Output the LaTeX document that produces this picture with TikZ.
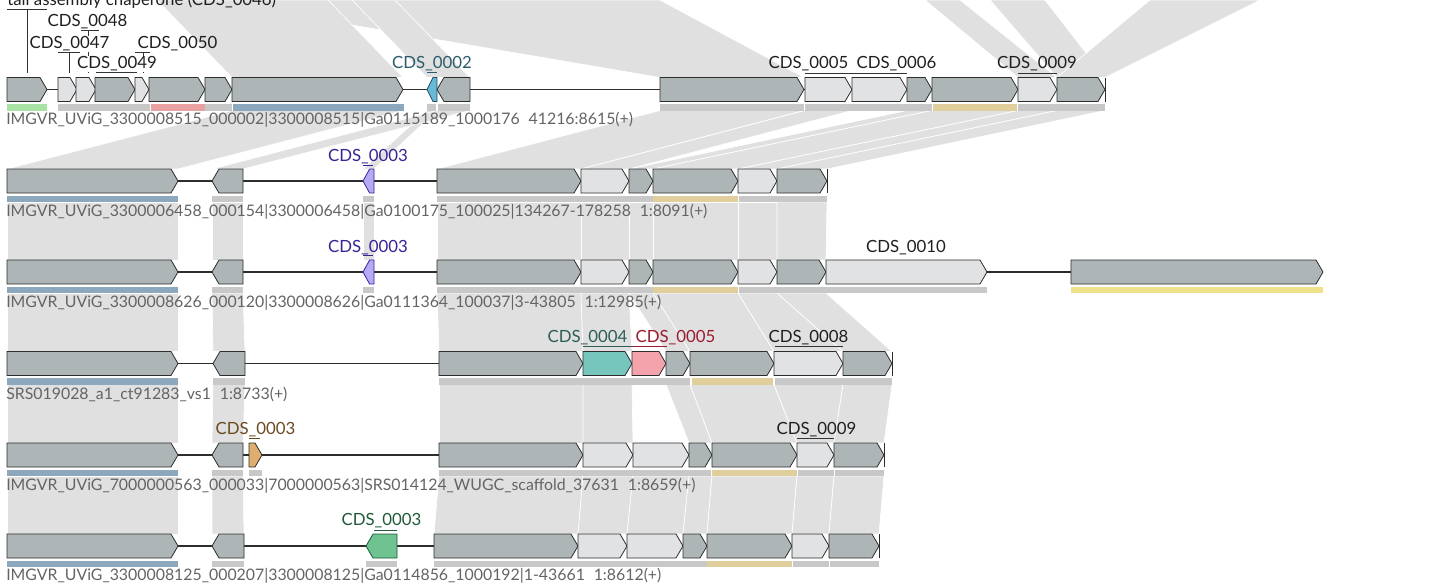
\documentclass[tikz,border=0pt]{standalone}
\usepackage{fontspec}
\setmainfont{Lato}
\definecolor{linkgrey}{RGB}{224,224,224}
\definecolor{gdark}{RGB}{173,181,182}
\definecolor{glight}{RGB}{224,226,228}
\definecolor{gstroke}{RGB}{45,45,45}
\definecolor{bgrey}{RGB}{200,200,200}
\definecolor{bblue}{RGB}{141,168,189}
\definecolor{btan}{RGB}{224,207,156}
\definecolor{bgreen}{RGB}{168,226,164}
\definecolor{bred}{RGB}{232,160,160}
\definecolor{byellow}{RGB}{237,226,138}
\definecolor{cblue}{RGB}{104,184,216}
\definecolor{cblueS}{RGB}{30,80,100}
\definecolor{cpurple}{RGB}{184,170,240}
\definecolor{cpurpleS}{RGB}{60,32,160}
\definecolor{cteal}{RGB}{118,198,190}
\definecolor{cpink}{RGB}{244,162,172}
\definecolor{corange}{RGB}{223,174,108}
\definecolor{cgreen}{RGB}{110,195,145}
\definecolor{cgreenS}{RGB}{30,90,56}
\definecolor{tteal}{RGB}{45,91,107}
\definecolor{tpurple}{RGB}{58,33,151}
\definecolor{tteal2}{RGB}{46,94,88}
\definecolor{tred}{RGB}{154,28,48}
\definecolor{tbrown}{RGB}{107,74,32}
\definecolor{tgreen}{RGB}{32,90,56}
\definecolor{tracktext}{RGB}{100,100,100}
\tikzset{
  gene/.style={draw=gstroke, line width=0.6pt, line join=miter},
  backbone/.style={draw=gstroke, line width=0.8pt},
  lnk/.style={fill=linkgrey, draw=white, line width=0.5pt},
  cds/.style={font=\fontsize{12.6}{14}\selectfont, inner sep=0pt, anchor=base, text=black!88},
  track/.style={font=\fontsize{11.9}{14}\selectfont, inner sep=0pt, anchor=west, text=tracktext},
  uline/.style={draw=black!80, line width=0.6pt},
}
\newcommand\fwdgene[5][]{%
  \pgfmathsetmacro\hd{min(7,0.6*(#3-#2))}%
  \filldraw[gene,fill=#5,#1] (#2,#4-12) -- ({#3-\hd},#4-12) -- (#3,#4) -- ({#3-\hd},#4+12) -- (#2,#4+12) -- cycle;}
\newcommand\revgene[5][]{%
  \pgfmathsetmacro\hd{min(7,0.6*(#3-#2))}%
  \filldraw[gene,fill=#5,#1] (#2,#4) -- ({#2+\hd},#4-12) -- (#3,#4-12) -- (#3,#4+12) -- ({#2+\hd},#4+12) -- cycle;}
\newcommand\truncend[2]{\draw[gene] (#1,#2-12) -- (#1,#2+12);}
\newcommand\gbar[4]{\fill[#4] (#1,#3+14.5) rectangle (#2,#3+21);}
% link: x1a x2a (upper row yc) x1b x2b (lower row yc)
\newcommand\glink[6]{\path[lnk] (#1,#3+21) -- (#2,#3+21) -- (#5,#6-12) -- (#4,#6-12) -- cycle;}
% link from the cut-off cluster above the first row: x at top edge y=0, x at row 1
\newcommand\toplink[4]{\path[lnk] (#1,0) -- (#2,0) -- (#4,77.5) -- (#3,77.5) -- cycle;}
\begin{document}
\begin{tikzpicture}[x=0.75pt,y=-0.75pt]
\useasboundingbox (0,0) rectangle (1432,587);
% ---------------- links ----------------
% row0 -> row1 (cluster above lies outside the picture)
\toplink{205}{660}{660}{804}
\toplink{157}{328}{232}{403}
\toplink{352}{395}{427}{470}
\toplink{925}{960}{1018}{1057}
\toplink{990}{1045}{1057}{1105}
\toplink{1150}{1260}{1057}{1105}
% row1 -> row2
\glink{232}{403}{89.5}{7}{178}{181}
\glink{427}{437}{89.5}{363}{374}{181}
\glink{437}{470}{89.5}{212}{243}{181}
\glink{660}{804}{89.5}{437}{581}{181}
\glink{805}{852}{89.5}{581}{629}{181}
\glink{907}{932}{89.5}{629}{653}{181}
\glink{932}{1018}{89.5}{653}{738}{181}
\glink{1018}{1057}{89.5}{738}{777}{181}
\glink{1057}{1105}{89.5}{777}{827}{181}
% row2 -> row3
\glink{7}{178}{181}{7}{178}{272}
\glink{212}{243}{181}{212}{243}{272}
\glink{363}{374}{181}{363}{374}{272}
\glink{437}{581}{181}{437}{581}{272}
\glink{581}{629}{181}{581}{629}{272}
\glink{629}{653}{181}{629}{653}{272}
\glink{653}{738}{181}{653}{738}{272}
\glink{738}{777}{181}{738}{777}{272}
\glink{777}{827}{181}{777}{826}{272}
% row3 -> row4
\glink{7}{178}{272}{7}{178}{363.5}
\glink{212}{243}{272}{213}{245}{363.5}
\glink{437}{581}{272}{439}{583}{363.5}
\glink{581}{629}{272}{583}{632}{363.5}
\glink{629}{653}{272}{666}{690}{363.5}
\glink{653}{738}{272}{690}{774}{363.5}
\glink{738}{777}{272}{774}{843}{363.5}
\glink{777}{826}{272}{843}{892}{363.5}
% row4 -> row5
\glink{7}{178}{363.5}{7}{178}{455}
\glink{213}{245}{363.5}{212}{243}{455}
\glink{439}{583}{363.5}{439}{583}{455}
\glink{583}{632}{363.5}{583}{633}{455}
\glink{666}{690}{363.5}{689}{712}{455}
\glink{690}{774}{363.5}{712}{797}{455}
\glink{774}{843}{363.5}{797}{834}{455}
\glink{843}{892}{363.5}{834}{884}{455}
% row5 -> row6
\glink{7}{178}{455}{7}{178}{546}
\glink{212}{243}{455}{212}{244}{546}
\glink{439}{583}{455}{434}{578}{546}
\glink{583}{633}{455}{578}{627}{546}
\glink{633}{689}{455}{627}{683}{546}
\glink{689}{712}{455}{683}{707}{546}
\glink{712}{797}{455}{707}{792}{546}
\glink{797}{834}{455}{792}{829}{546}
\glink{834}{884}{455}{829}{879}{546}
% ---------------- row 1 ----------------
\draw[backbone] (7,89.5) -- (1105,89.5);
\fwdgene{7}{47}{89.5}{gdark}
\fwdgene{58}{77}{89.5}{glight}
\fwdgene{76}{96}{89.5}{glight}
\fwdgene{95}{135}{89.5}{gdark}
\fwdgene{135}{149}{89.5}{glight}
\fwdgene{149}{205}{89.5}{gdark}
\fwdgene{205}{232}{89.5}{gdark}
\fwdgene{232}{403}{89.5}{gdark}
\revgene[draw=cblueS]{427}{437}{89.5}{cblue}
\revgene{437}{470}{89.5}{gdark}
\fwdgene{660}{804}{89.5}{gdark}
\fwdgene{805}{852}{89.5}{glight}
\fwdgene{852}{907}{89.5}{glight}
\fwdgene{907}{932}{89.5}{gdark}
\fwdgene{932}{1018}{89.5}{gdark}
\fwdgene{1018}{1057}{89.5}{glight}
\fwdgene{1057}{1105}{89.5}{gdark}
\truncend{1105}{89.5}
\gbar{7}{47}{89.5}{bgreen}
\gbar{58}{150}{89.5}{bgrey}
\gbar{151}{205}{89.5}{bred}
\gbar{205}{232}{89.5}{bgrey}
\gbar{233}{404}{89.5}{bblue}
\gbar{427}{436}{89.5}{bgrey}
\gbar{438}{470}{89.5}{bgrey}
\gbar{660}{804}{89.5}{bgrey}
\gbar{805}{932}{89.5}{bgrey}
\gbar{933}{1017}{89.5}{btan}
\gbar{1018}{1105}{89.5}{bgrey}
\node[track] (t1) at (6,119.5) {IMGVR\_UViG\_3300008515\_000002|3300008515|Ga0115189\_1000176\hspace{0.3em} 41216:8615(+)};
% row 1 labels
\draw[uline] (7,9.3) -- (47,9.3) (27,9.3) -- (27,73);
\node[cds,anchor=base west] (l46) at (7,5.5) {tail assembly chaperone (CDS\_0046)};
\draw[uline] (81,30.7) -- (99,30.7) (88,30.7) -- (88,73);
\draw[uline] (58,52.3) -- (80,52.3) (69,52.3) -- (69,73);
\draw[uline] (135,52.3) -- (150,52.3) (143,52.3) -- (143,73);
\draw[uline] (96,72.7) -- (137,72.7);
\node[cds] (l48) at (87.5,26.5) {CDS\_0048};
\node[cds,fill=white,inner sep=0.5pt] (l47) at (69.5,48.5) {CDS\_0047};
\node[cds] (l50) at (177.5,48.5) {CDS\_0050};
\node[cds,fill=white,inner sep=0.5pt] (l49) at (117,68.5) {CDS\_0049};
\draw[uline,draw=tteal] (427,72.7) -- (437,72.7);
\node[cds,text=tteal] (l02) at (432,68.5) {CDS\_0002};
\draw[uline] (805,73) -- (907,73);
\node[cds] (l05a) at (808.5,68.5) {CDS\_0005};
\node[cds] (l06) at (896.5,68.5) {CDS\_0006};
\draw[uline] (1018,73) -- (1057,73);
\node[cds] (l09a) at (1037,68.5) {CDS\_0009};
% ---------------- row 2 ----------------
\draw[backbone] (7,181) -- (827,181);
\fwdgene{7}{178}{181}{gdark}
\revgene{212}{243}{181}{gdark}
\revgene[draw=cpurpleS]{363}{374}{181}{cpurple}
\fwdgene{437}{581}{181}{gdark}
\fwdgene{581}{629}{181}{glight}
\fwdgene{629}{653}{181}{gdark}
\fwdgene{653}{738}{181}{gdark}
\fwdgene{738}{777}{181}{glight}
\fwdgene{777}{827}{181}{gdark}
\truncend{827}{181}
\gbar{7}{178}{181}{bblue}
\gbar{212}{243}{181}{bgrey}
\gbar{363}{374}{181}{bgrey}
\gbar{437}{653}{181}{bgrey}
\gbar{653}{738}{181}{btan}
\gbar{739}{827}{181}{bgrey}
\draw[uline,draw=tpurple] (363,165) -- (373,165);
\node[cds,text=tpurple] (l03b) at (368,161.5) {CDS\_0003};
\node[track] (t2) at (6,212) {IMGVR\_UViG\_3300006458\_000154|3300006458|Ga0100175\_100025|134267-178258\hspace{0.3em} 1:8091(+)};
% ---------------- row 3 ----------------
\draw[backbone] (7,272) -- (1323,272);
\fwdgene{7}{178}{272}{gdark}
\revgene{212}{243}{272}{gdark}
\revgene[draw=cpurpleS]{363}{374}{272}{cpurple}
\fwdgene{437}{581}{272}{gdark}
\fwdgene{581}{629}{272}{glight}
\fwdgene{629}{653}{272}{gdark}
\fwdgene{653}{738}{272}{gdark}
\fwdgene{738}{777}{272}{glight}
\fwdgene{777}{826}{272}{gdark}
\fwdgene{826}{987}{272}{glight}
\fwdgene{1071}{1323}{272}{gdark}
\gbar{7}{178}{272}{bblue}
\gbar{212}{243}{272}{bgrey}
\gbar{363}{374}{272}{bgrey}
\gbar{437}{653}{272}{bgrey}
\gbar{653}{738}{272}{btan}
\gbar{739}{987}{272}{bgrey}
\gbar{1071}{1323}{272}{byellow}
\draw[uline,draw=tpurple] (363,255.5) -- (373,255.5);
\node[cds,text=tpurple] (l03c) at (368,252.5) {CDS\_0003};
\node[cds] (l10) at (906,252.5) {CDS\_0010};
\node[track] (t3) at (6,303) {IMGVR\_UViG\_3300008626\_000120|3300008626|Ga0111364\_100037|3-43805\hspace{0.3em} 1:12985(+)};
% ---------------- row 4 ----------------
\draw[backbone] (7,363.5) -- (892,363.5);
\fwdgene{7}{178}{363.5}{gdark}
\revgene{213}{245}{363.5}{gdark}
\fwdgene{439}{583}{363.5}{gdark}
\fwdgene{583}{632}{363.5}{cteal}
\fwdgene{632}{666}{363.5}{cpink}
\fwdgene{666}{690}{363.5}{gdark}
\fwdgene{690}{774}{363.5}{gdark}
\fwdgene{774}{843}{363.5}{glight}
\fwdgene{843}{892}{363.5}{gdark}
\truncend{892}{363.5}
\gbar{7}{178}{363.5}{bblue}
\gbar{213}{245}{363.5}{bgrey}
\gbar{439}{690}{363.5}{bgrey}
\gbar{692}{773}{363.5}{btan}
\gbar{775}{892}{363.5}{bgrey}
\draw[uline,draw=tteal2] (583,346.7) -- (632,346.7);
\draw[uline,draw=tred] (632,346.7) -- (667,346.7);
\draw[uline] (775,346.7) -- (843,346.7);
\node[cds,text=tteal2] (l04) at (587.5,342.5) {CDS\_0004};
\node[cds,text=tred] (l05d) at (675.5,342.5) {CDS\_0005};
\node[cds] (l08) at (808.5,342.5) {CDS\_0008};
\node[track] (t4) at (6,394.5) {SRS019028\_a1\_ct91283\_vs1\hspace{0.3em} 1:8733(+)};
% ---------------- row 5 ----------------
\draw[backbone] (7,455) -- (884,455);
\fwdgene{7}{178}{455}{gdark}
\revgene{212}{243}{455}{gdark}
\fwdgene{249}{262}{455}{corange}
\fwdgene{439}{583}{455}{gdark}
\fwdgene{583}{633}{455}{glight}
\fwdgene{633}{689}{455}{glight}
\fwdgene{689}{712}{455}{gdark}
\fwdgene{712}{797}{455}{gdark}
\fwdgene{797}{834}{455}{glight}
\fwdgene{834}{884}{455}{gdark}
\truncend{884}{455}
\gbar{7}{178}{455}{bblue}
\gbar{212}{243}{455}{bgrey}
\gbar{249}{262}{455}{bgrey}
\gbar{439}{711}{455}{bgrey}
\gbar{712}{797}{455}{btan}
\gbar{798}{834}{455}{bgrey}
\gbar{835}{884}{455}{bgrey}
\draw[uline,draw=tbrown] (249,438) -- (260,438);
\draw[uline] (797,438) -- (834,438);
\node[cds,text=tbrown] (l03e) at (255.5,434) {CDS\_0003};
\node[cds] (l09e) at (816.5,434) {CDS\_0009};
\node[track] (t5) at (6,485.5) {IMGVR\_UViG\_7000000563\_000033|7000000563|SRS014124\_WUGC\_scaffold\_37631\hspace{0.3em} 1:8659(+)};
% ---------------- row 6 ----------------
\draw[backbone] (7,546) -- (879,546);
\fwdgene{7}{178}{546}{gdark}
\revgene{212}{244}{546}{gdark}
\revgene[draw=cgreenS]{366}{397}{546}{cgreen}
\fwdgene{434}{578}{546}{gdark}
\fwdgene{578}{627}{546}{glight}
\fwdgene{627}{683}{546}{glight}
\fwdgene{683}{707}{546}{gdark}
\fwdgene{707}{792}{546}{gdark}
\fwdgene{792}{829}{546}{glight}
\fwdgene{829}{879}{546}{gdark}
\truncend{879}{546}
\gbar{7}{178}{546}{bblue}
\gbar{212}{244}{546}{bgrey}
\gbar{366}{397}{546}{bgrey}
\gbar{434}{707}{546}{bgrey}
\gbar{707}{792}{546}{btan}
\gbar{793}{829}{546}{bgrey}
\gbar{830}{879}{546}{bgrey}
\draw[uline,draw=tgreen] (374,530) -- (397,530);
\node[cds,text=tgreen] (l03f) at (381.5,525.5) {CDS\_0003};
\node[track] (t6) at (6,576) {IMGVR\_UViG\_3300008125\_000207|3300008125|Ga0114856\_1000192|1-43661\hspace{0.3em} 1:8612(+)};
\end{tikzpicture}
\end{document}
